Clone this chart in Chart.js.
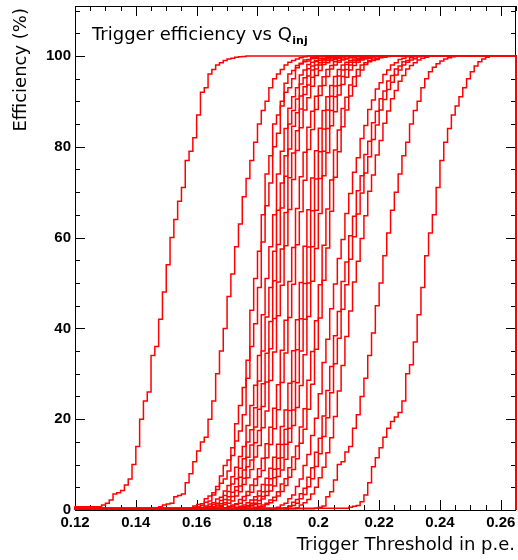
<!DOCTYPE html>
<html>
<head>
<meta charset="utf-8">
<script src="https://cdn.jsdelivr.net/npm/chart.js@4.4.1/dist/chart.umd.min.js"></script>
<style>
  body { margin: 0; background: #fff; }
  #wrap { width: 518px; height: 560px; position: relative; }
</style>
</head>
<body>
<div id="wrap"><canvas id="effChart"></canvas></div>
<script>
// axis layout
const xMin = 0.12;
const xMax = 0.265;
const yMax = 111;
const binWidth = 0.00125;
const xTicks = [0.12, 0.14, 0.16, 0.18, 0.2, 0.22, 0.24, 0.26];
const xTickLabels = ["0.12", "0.14", "0.16", "0.18", "0.2", "0.22", "0.24", "0.26"];
const yTicks = [0, 20, 40, 60, 80, 100];
const yTickLabels = ["0", "20", "40", "60", "80", "100"];

// first filled bin of each curve (bins of binWidth starting at xMin)
const startBin = [7, 21, 30, 31, 33, 34, 35, 36, 37, 39, 40, 42, 43, 44, 45, 47, 48, 53, 55, 56, 58, 63, 72];

// efficiency (%) per bin
const c01 = [0.7,1.1,1.5,2.2,3.5,3.8,4.3,5.5,6.8,10,14,20,24,26,34,36,42,48,54,60,64,68,71,77,79,82,87,92,93,96,97,98,98.5,99,99.3,99.5,99.7,99.8,99.9,100];
const c02 = [0.3,0.4,0.7,1.1,1.3,1.5,2.9,3.2,3.5,6,8,10.6,13,15,16,20,24,30,35,40,47,52,58,63,69,73,77,81,85,88,90,93,95,96,97,98,98.6,99,99.3,99.6,99.8,100];
const c03 = [0.2,0.4,0.9,1.2,1.4,2.5,3.1,3.8,5.2,7.5,9.8,11,13.7,19,23,27,33,44,51,57,65,74,78,85,87,90,94,96,96.8,97.9,98.4,99.1,99.2,99.6,99.7,99.9,100];
const c04 = [0.3,0.6,0.7,1,1.7,2,3.3,4.5,5.9,6.8,8.6,12,15.2,17.4,21,29,36,41,49,59,67,72,80,83,89,92,93,95,97.4,98.2,98.7,98.9,99.4,99.5,99.8,99.9,100];
const c05 = [0.2,0.5,0.9,1.3,1.6,2.4,2.8,4.2,5.4,7.3,9.4,11.8,14,18.6,23,27.5,34,43,51,58,65,74,79,84,88.5,91,93,95.8,96.9,98.1,98.6,99,99.4,99.5,99.6,99.8,100];
const c06 = [0.4,0.6,0.8,1.2,1.5,2.1,3.2,4.1,5.7,6.9,9.2,11.3,15,17.7,22.5,28.4,35,42.5,49,57,66,72,78,85,88,90.5,93.8,95.2,97.2,97.8,98.8,99,99.2,99.5,99.7,99.9,100];
const c07 = [0.3,0.4,0.7,1.1,1.4,2.3,2.9,3.9,5.1,7.2,8.8,11.6,14.3,18.3,22.2,27.8,34.5,41.5,50.5,58.5,66.5,73.5,79.5,84.5,87.5,91.2,93.2,95.6,96.9,98,98.5,99.1,99.3,99.6,99.7,99.8,100];
const c08 = [0.3,0.5,0.9,1,1.6,2.2,3,4.3,5.3,7,9.5,11,14.8,17.5,22.8,28.2,35.5,42.2,50.2,57.5,65.5,73.2,78.6,83.5,88.3,91.5,93.6,95.3,97.1,98,98.6,99,99.3,99.4,99.7,99.85,100];
const c09 = [0.2,0.5,0.7,1.2,1.5,2,3.1,4,5.6,7.1,8.9,11.7,14.2,18.1,21.8,28.5,34.8,42.8,49.5,58.2,66.2,72.8,79.2,84.2,88.1,90.8,93.3,95.7,96.8,98.1,98.5,99,99.2,99.5,99.75,99.9,100];
const c10 = [0.3,0.5,0.8,1.1,1.4,2.3,3,4.1,5.5,6.8,9.1,11.4,14.6,18.2,22.4,27.6,35.2,41.8,50.3,57.8,66.4,73.4,78.8,84.3,87.8,91.1,93.4,95.4,97,97.9,98.7,99,99.3,99.5,99.7,99.85,100];
const c11 = [0.4,0.5,0.8,1.2,1.5,2.1,3.2,3.9,5.4,7.3,8.7,11.5,14.4,17.9,22.1,28.1,34.6,42.4,49.7,58.4,65.7,72.6,79.4,83.8,88.2,91.3,93.5,95.5,97.1,98,98.6,99.1,99.3,99.6,99.7,99.9,100];
const c12 = [0.3,0.6,0.8,1.1,1.6,2.2,2.9,4.2,5.6,7,9.2,11.6,14.5,18.4,22,27.9,35.1,41.9,50.1,58.1,66.1,73.1,79.1,84.1,88,91,93.5,95.5,97,98,98.6,99,99.3,99.5,99.7,99.85,100];
const c13 = [0.2,0.5,0.7,1,1.5,2.2,3.1,4,5.5,6.9,9,11.4,14.4,17.8,21.9,28.3,35.3,42.1,49.9,57.9,65.9,72.9,78.9,83.9,88.1,91.1,93.4,95.6,96.9,98.1,98.6,99,99.2,99.5,99.7,99.8,100];
const c14 = [0.3,0.5,0.8,1.1,1.5,2.1,3,4.1,5.5,7.1,9.1,11.5,14.5,18,22,28,35,42,50,58,66,73,79,84,88,91,93.5,95.5,97,98,98.6,99,99.3,99.5,99.7,99.85,100];
const c15 = [0.3,0.4,0.9,1.2,1.4,2.4,3.2,4.2,5.3,7.4,8.8,11.2,14.9,18.6,22.6,27.4,34.2,42.6,50.4,57.6,65.3,73.6,78.7,84.6,87.7,91.4,93.7,95.3,96.9,97.9,98.6,99.1,99.3,99.5,99.75,99.9,100];
const c16 = [0.2,0.6,0.8,1.1,1.5,2.2,2.8,4,5.7,6.9,9.3,11.7,14.1,18.3,22.3,28.6,34.9,41.7,49.6,58.3,66.3,72.7,79.3,83.7,88.4,90.9,93.6,95.4,97,98,98.5,99,99.3,99.5,99.7,99.85,100];
const c17 = [0.3,0.5,0.7,1.2,1.6,2.1,3.1,4.1,5.4,7.2,8.9,11.3,14.7,17.8,22.2,27.7,35.4,42.3,50.6,57.7,65.8,73.3,78.9,84.4,88.1,91.2,93.3,95.6,96.9,98.1,98.7,99,99.2,99.6,99.7,99.9,100];
const c18 = [0.2,0.6,1.1,1.5,2.5,3.3,5.2,6.8,9.8,12.2,16.4,20.2,25.6,32.5,37.6,44.3,49.8,55.4,59.6,65.3,69.7,74.4,77.6,81.8,84.7,88.2,90.3,92.7,94.1,95.9,96.9,98,98.5,99.2,99.5,99.8,100];
const c19 = [0.4,0.5,0.9,1.7,2.3,3.6,4.8,7.2,9.3,12.7,15.8,20.7,26.3,31.6,38.4,43.7,50.3,54.6,60.4,64.7,70.3,73.6,78.3,81.2,85.3,87.8,90.6,92.3,94.5,95.7,97.1,97.8,98.7,99,99.6,99.8,100];
const c20 = [0.3,0.7,1,1.5,2.5,3.4,5.1,6.9,9.6,12.4,16.2,20.3,25.8,32.2,37.8,44.2,49.6,55.2,60.2,65.2,69.8,74.2,77.8,81.6,84.8,88.1,90.4,92.6,94.2,95.8,96.9,98,98.6,99.1,99.4,99.8,100];
const c21 = [0.3,0.5,1.1,1.6,2.3,3.5,5,7.1,9.4,12.6,15.9,20.6,26.2,31.8,38.2,43.8,50.2,54.8,59.8,64.8,70.2,73.8,78.2,81.4,85.2,87.9,90.6,92.4,94.4,95.7,97.1,97.9,98.5,99.1,99.5,99.7,100];
const c22 = [0.3,0.4,0.6,0.9,2.9,4,6.6,10,10.6,12.8,14,18,21,25,29,34,39,45,50,56,61,66,70,74,78,81,85,88,90,93,95,96.5,97.5,98.3,98.9,99.3,99.6,99.8,100];
const c23 = [0.4,0.6,0.8,1,1.8,3.3,6,9.5,11.5,13.7,16,18,19.5,20.5,21.5,24,30,32,37,43,49,56,61,65,71,77,81,84,87,89,91,93,95,96.5,97.8,98.7,99.3,99.7,100];

const curves = [c01, c02, c03, c04, c05, c06, c07, c08, c09, c10, c11, c12,
  c13, c14, c15, c16, c17, c18, c19, c20, c21, c22, c23];

function buildPoints(start, vals) {
  const pts = [{ x: xMin, y: 0 }];
  vals.forEach((v, j) => {
    pts.push({ x: xMin + (start + j) * binWidth, y: v });
  });
  pts.push({ x: xMax, y: 100 });
  pts.push({ x: xMax, y: 0 });
  return pts;
}

// no extra room for overhanging tick labels, the frame sits at fixed pixels
function fixScale(s, size) {
  if (s.isHorizontal()) s.height = size;
  else s.width = size;
  s.paddingTop = 0;
  s.paddingBottom = 0;
  s.paddingLeft = 0;
  s.paddingRight = 0;
}

const rootStyle = {
  id: "rootStyle",
  beforeDatasetsDraw(chart) {
    const { ctx, chartArea: a, scales } = chart;
    const x = scales.x, y = scales.y;
    ctx.save();
    ctx.strokeStyle = "#000";
    ctx.lineWidth = 1;
    ctx.beginPath();
    // x ticks, bottom and top, pointing inward
    for (let i = 0; xMin + i * 0.005 <= xMax + 1e-9; i++) {
      const v = xMin + i * 0.005;
      const len = i % 4 === 0 ? 10 : 5;
      const px = Math.round(x.getPixelForValue(v)) + 0.5;
      ctx.moveTo(px, a.bottom);
      ctx.lineTo(px, a.bottom - len);
      ctx.moveTo(px, a.top);
      ctx.lineTo(px, a.top + len);
    }
    // y ticks, left and right
    for (let v = 0; v <= yMax; v += 5) {
      const len = v % 20 === 0 ? 10 : 5;
      const py = Math.round(y.getPixelForValue(v)) + 0.5;
      ctx.moveTo(a.left, py);
      ctx.lineTo(a.left + len, py);
      ctx.moveTo(a.right, py);
      ctx.lineTo(a.right - len, py);
    }
    ctx.stroke();
    ctx.strokeRect(a.left + 0.5, a.top + 0.5, a.right - a.left - 1, a.bottom - a.top);
    ctx.restore();
  },
  afterDraw(chart) {
    const { ctx } = chart;
    ctx.save();
    ctx.fillStyle = "#000";
    ctx.textBaseline = "alphabetic";

    // title inside the frame
    ctx.font = '18px "DejaVu Sans"';
    ctx.textAlign = "left";
    const main = "Trigger efficiency vs Q";
    ctx.fillText(main, 92, 40);
    const w = ctx.measureText(main).width;
    ctx.font = 'bold 11px "DejaVu Sans"';
    ctx.fillText("inj", 92 + w + 0.5, 44);

    // x axis title
    ctx.font = '18px "DejaVu Sans"';
    ctx.textAlign = "right";
    ctx.fillText("Trigger Threshold in p.e.", 515, 550);

    // y axis title
    ctx.translate(26, 8);
    ctx.rotate(-Math.PI / 2);
    ctx.textAlign = "right";
    ctx.fillText("Efficiency (%)", 0, 0);
    ctx.restore();
  },
};

const tickFont = { family: '"Liberation Sans", Arial, sans-serif', size: 15, weight: "bold" };

new Chart(document.getElementById("effChart"), {
  type: "line",
  data: {
    datasets: curves.map((vals, i) => ({
      data: buildPoints(startBin[i], vals),
      borderColor: "#ff0000",
      borderWidth: 1.5,
      pointRadius: 0,
      stepped: "after",
      fill: false,
      clip: false,
    })),
  },
  options: {
    responsive: true,
    maintainAspectRatio: false,
    animation: false,
    events: [],
    layout: { padding: { top: 6, right: 2, left: 0, bottom: 0 } },
    plugins: { legend: { display: false }, tooltip: { enabled: false } },
    scales: {
      x: {
        type: "linear",
        min: xMin,
        max: xMax,
        afterBuildTicks: (s) => { s.ticks = xTicks.map((v) => ({ value: v })); },
        afterFit: (s) => fixScale(s, 50),
        ticks: {
          callback: (v, i) => xTickLabels[i],
          font: tickFont,
          color: "#000",
          padding: 4,
          maxRotation: 0,
          autoSkip: false,
        },
        grid: { display: false, drawTicks: false },
        border: { display: false },
      },
      y: {
        min: 0,
        max: yMax,
        afterBuildTicks: (s) => { s.ticks = yTicks.map((v) => ({ value: v })); },
        afterFit: (s) => fixScale(s, 75),
        ticks: {
          callback: (v, i) => yTickLabels[i],
          font: tickFont,
          color: "#000",
          padding: 4,
        },
        grid: { display: false, drawTicks: false },
        border: { display: false },
      },
    },
  },
  plugins: [rootStyle],
});
</script>
</body>
</html>
